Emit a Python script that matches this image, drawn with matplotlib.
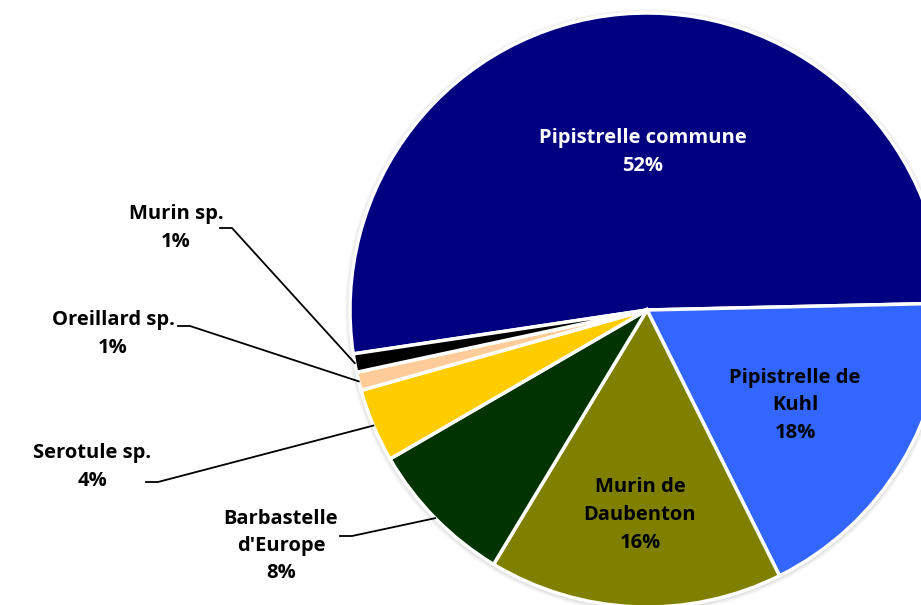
import numpy as np
import matplotlib.pyplot as plt

plt.rcParams['font.family'] = ['Open Sans', 'DejaVu Sans']

species = ['Pipistrelle commune', 'Pipistrelle de\nKuhl', 'Murin de\nDaubenton',
           "Barbastelle\nd'Europe", 'Serotule sp.', 'Oreillard sp.', 'Murin sp.']
shares = [52, 18, 16, 8, 4, 1, 1]
colors = ['#000080', '#3366FF', '#808000', '#003300', '#FFCC00', '#FFCC99', '#000000']

W, H = 921, 605
fig = plt.figure(figsize=(W / 100, H / 100), dpi=100)
ax = fig.add_axes([0, 0, 1, 1])
ax.set_xlim(0, W)
ax.set_ylim(0, H)
ax.set_aspect('equal')
ax.axis('off')

cx, cy, r = 647, H - 310, 297

# soft shadow round the rim
for k, a in enumerate([0.05, 0.04, 0.03]):
    ax.add_patch(plt.Circle((cx, cy - 1), r + 2 + k * 1.5, color='black', alpha=a, lw=0))

wedges, _ = ax.pie(shares, colors=colors, startangle=188.5, counterclock=False,
                   center=(cx, cy), radius=r,
                   wedgeprops=dict(edgecolor='white', linewidth=2.5))
ax.set_xlim(0, W)
ax.set_ylim(0, H)

fs = 14.5
# labels inside the big slices
inside = {0: (643, 152, 'white'), 1: (795, 405, 'black'), 2: (640, 515, 'black')}
for i, (x, y, c) in inside.items():
    ax.text(x, H - y, f'{species[i]}\n{shares[i]}%', ha='center', va='center',
            color=c, fontsize=fs, fontweight='bold', linespacing=1.5)

# outside labels with leader lines
outside = {3: (281, 546, 352, 536), 4: (92, 467, 158, 482),
           5: (113, 334, 190, 326), 6: (176, 228, 232, 228)}
for i, (x, y, lx, ly) in outside.items():
    ax.text(x, H - y, f'{species[i]}\n{shares[i]}%', ha='center', va='center',
            color='black', fontsize=fs, fontweight='bold', linespacing=1.5)
    w = wedges[i]
    mid = np.deg2rad((w.theta1 + w.theta2) / 2)
    ex, ey = cx + r * np.cos(mid), cy + r * np.sin(mid)
    ax.plot([lx - 12, lx, ex], [H - ly, H - ly, ey], color='black', lw=1.3)

fig.savefig('out.png', dpi=100)
